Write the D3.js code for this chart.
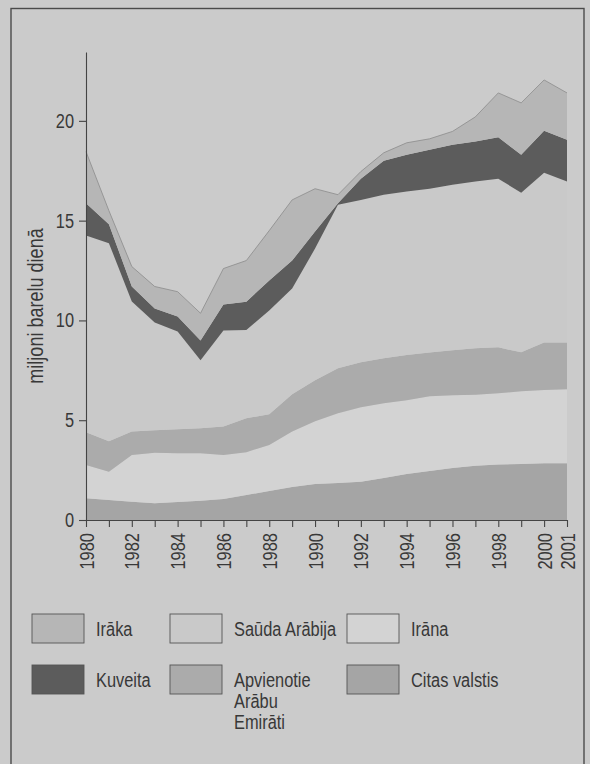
<!DOCTYPE html>
<html>
<head>
<meta charset="utf-8">
<script src="https://cdn.jsdelivr.net/npm/d3@7"></script>
<style>
  html, body { margin: 0; padding: 0; background: #cbcbcb; }
  svg { display: block; }
  text { font-family: "Liberation Sans Narrow", "Arial Narrow", "Liberation Sans", sans-serif; fill: #383838; }
</style>
</head>
<body>
<svg id="chart" width="590" height="764"></svg>
<script>
// ---- data (million barrels per day) ----
const years = [1980,1981,1982,1983,1984,1985,1986,1987,1988,1989,1990,1991,1992,1993,1994,1995,1996,1997,1998,1999,2000,2001];
const citasValstis = [1.09,1.0,0.92,0.84,0.9,0.97,1.05,1.25,1.45,1.65,1.8,1.86,1.92,2.1,2.3,2.45,2.6,2.72,2.78,2.8,2.84,2.84];
const irana        = [1.67,1.42,2.34,2.53,2.45,2.38,2.21,2.15,2.31,2.78,3.15,3.49,3.73,3.75,3.7,3.75,3.65,3.55,3.57,3.65,3.68,3.71];
const aae          = [1.64,1.53,1.17,1.13,1.2,1.25,1.42,1.7,1.54,1.87,2.05,2.25,2.25,2.25,2.27,2.19,2.25,2.33,2.3,1.95,2.38,2.35];
const saudaArabija = [9.85,9.92,6.52,5.4,4.89,3.4,4.82,4.42,5.2,5.3,6.6,8.2,8.14,8.2,8.19,8.21,8.3,8.36,8.45,8.0,8.5,8.06];
const kuveita      = [1.62,0.95,0.75,0.7,0.76,1.0,1.3,1.42,1.5,1.4,0.85,0.07,1.06,1.7,1.84,1.95,2.0,2.0,2.08,1.9,2.1,2.09];
const iraka        = [2.59,0.68,1.0,1.1,1.24,1.36,1.8,2.06,2.5,3.04,2.15,0.43,0.36,0.4,0.6,0.55,0.67,1.24,2.22,2.6,2.55,2.35];

const yTicks = [0,5,10,15,20];
const xLabelYears = [1980,1982,1984,1986,1988,1990,1992,1994,1996,1998,2000,2001];
const yTitle = "miljoni barelu dienā";

// stacking order bottom -> top
const seriesKeys = ["citas","irana","aae","sauda","kuveita","iraka"];
const seriesData = {citas: citasValstis, irana: irana, aae: aae, sauda: saudaArabija, kuveita: kuveita, iraka: iraka};
const colors = {citas:"#a5a5a5", irana:"#d3d3d3", aae:"#ababab", sauda:"#c9c9c9", kuveita:"#5c5c5c", iraka:"#b6b6b6"};
const legendItems = [
  {key:"iraka", lines:["Irāka"], col:0, row:0},
  {key:"sauda", lines:["Saūda Arābija"], col:1, row:0},
  {key:"irana", lines:["Irāna"], col:2, row:0},
  {key:"kuveita", lines:["Kuveita"], col:0, row:1},
  {key:"aae", lines:["Apvienotie","Arābu","Emirāti"], col:1, row:1},
  {key:"citas", lines:["Citas valstis"], col:2, row:1}
];

const svg = d3.select("#chart");

// frame
svg.append("rect").attr("x",11).attr("y",8.5).attr("width",573).attr("height",800)
  .attr("fill","#cbcbcb").attr("stroke","#4a4a4a").attr("stroke-width",1.4);

const x = d3.scaleLinear().domain([1980,2001]).range([86,567]);
const y = d3.scaleLinear().domain([0,23.45]).range([520,52]);

const table = years.map((yr,i) => {
  const o = {year: yr};
  seriesKeys.forEach(k => o[k] = seriesData[k][i]);
  return o;
});
const stack = d3.stack().keys(seriesKeys)(table);

const area = d3.area().x(d => x(d.data.year)).y0(d => y(d[0])).y1(d => y(d[1]));
svg.append("g").selectAll("path").data(stack).join("path")
  .attr("d", area).attr("fill", d => colors[d.key]);

// thin outline along top edge
const topLine = d3.line().x(d => x(d.data.year)).y(d => y(d[1]));
svg.append("path").datum(stack[stack.length-1]).attr("d", topLine)
  .attr("fill","none").attr("stroke","#8c8c8c").attr("stroke-width",0.8);

// y axis
const yAxis = svg.append("g").attr("transform","translate(86,0)")
  .call(d3.axisLeft(y).tickValues(yTicks).tickSize(7).tickSizeOuter(0).tickPadding(5).tickFormat(d3.format("d")));
yAxis.selectAll("path,line").attr("stroke","#444").attr("stroke-width",1.1);
yAxis.selectAll("text").style("font-size","20px").attr("fill","#383838");

// x axis
const xAxis = svg.append("g").attr("transform","translate(0,520)")
  .call(d3.axisBottom(x).tickValues(years).tickSize(7).tickSizeOuter(0)
    .tickFormat(d => xLabelYears.includes(d) ? String(d) : ""));
xAxis.selectAll("path,line").attr("stroke","#444").attr("stroke-width",1.1);
xAxis.selectAll("text").style("font-size","20px").attr("fill","#383838")
  .attr("transform","rotate(-90)").attr("text-anchor","end")
  .attr("x",-13).attr("y",0).attr("dy","0.35em");

// y title
svg.append("text").attr("transform","translate(43,306) rotate(-90)")
  .attr("text-anchor","middle").style("font-size","22px").text(yTitle);

// legend
const colX = [32, 170, 347];
const rowY = [614, 665];
const lg = svg.append("g");
legendItems.forEach(it => {
  const bx = colX[it.col], by = rowY[it.row];
  lg.append("rect").attr("x",bx).attr("y",by).attr("width",52).attr("height",29)
    .attr("fill",colors[it.key]).attr("stroke","#555").attr("stroke-width",0.9);
  it.lines.forEach((ln,j) => {
    lg.append("text").attr("x",bx+64).attr("y",by+22+j*21)
      .style("font-size","20px").text(ln);
  });
});

// condense all text (narrow typeface look)
svg.selectAll("text").each(function() {
  const t = d3.select(this);
  if (!t.text()) return;
  const w = this.getComputedTextLength();
  t.attr("textLength", (w * 0.82).toFixed(1)).attr("lengthAdjust","spacingAndGlyphs");
});
</script>
</body>
</html>
